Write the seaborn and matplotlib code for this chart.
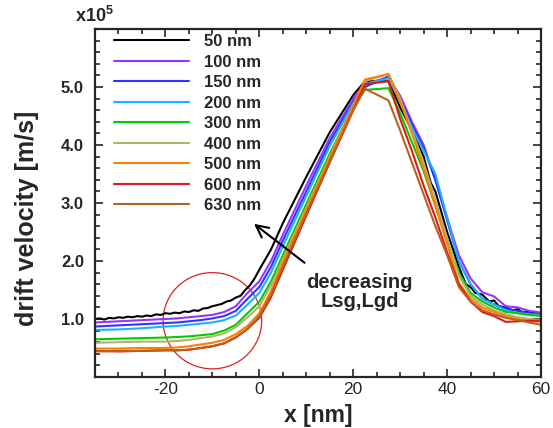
import numpy as np
import pandas as pd
import matplotlib
matplotlib.use("Agg")
import matplotlib.pyplot as plt
import seaborn as sns
from matplotlib.patches import Ellipse
from matplotlib.ticker import MultipleLocator

# Drift velocity profiles (x10^5 m/s) for different Lsg/Lgd lengths
lengths = ["50 nm", "100 nm", "150 nm", "200 nm", "300 nm", "400 nm", "500 nm", "600 nm", "630 nm"]
colors = ["#000000", "#9933ff", "#3333ff", "#1ab2ff", "#00cc00", "#b3b366", "#ff8000", "#dd1a1a", "#b8621b"]

# the 50 nm curve is noisy and sampled finer
x_50 = [-35, -34, -33, -32, -31, -30, -29, -28, -27, -26, -25, -24, -23, -22, -21, -20,
        -19, -18, -17, -16, -15, -14, -13, -12, -11, -10, -9, -8, -7, -6, -5, -4, -3, -2, -1,
        0, 2.5, 5, 10, 15, 20, 22.5, 27.5, 30, 32.5, 35, 36.5, 37.5, 40, 42.5, 44, 45, 46,
        47.5, 49, 50, 51, 52.5, 54, 55, 56, 57.5, 59, 60]
v_50 = [1.00, 1.01, 0.99, 1.02, 1.01, 1.03, 1.02, 1.04, 1.03, 1.05, 1.04, 1.06, 1.05, 1.08, 1.07, 1.10,
        1.09, 1.11, 1.10, 1.13, 1.12, 1.15, 1.14, 1.18, 1.19, 1.22, 1.24, 1.26, 1.30, 1.32, 1.37, 1.40,
        1.50, 1.58, 1.70,
        1.85, 2.20, 2.65, 3.45, 4.22, 4.86, 5.10, 5.10, 4.65, 4.25, 3.80, 3.35, 3.20, 2.50, 1.90, 1.60,
        1.55, 1.45, 1.42, 1.30, 1.32, 1.22, 1.20, 1.15, 1.17, 1.12, 1.13, 1.09, 1.10]

x_grid = [-35, -30, -25, -20, -17.5, -15, -12.5, -10, -7.5, -5, -2.5, 0, 2.5, 5, 10, 15, 20,
          22.5, 27.5, 30, 32.5, 35, 37.5, 40, 42.5, 45, 47.5, 50, 52.5, 55, 57.5, 60]
v_100 = [0.94, 0.96, 0.98, 1.00, 1.01, 1.03, 1.05, 1.07, 1.12, 1.22, 1.45, 1.65, 2.00, 2.45, 3.30, 4.12,
         4.80, 5.05, 5.17, 4.85, 4.40, 4.00, 3.40, 2.75, 2.10, 1.70, 1.46, 1.39, 1.22, 1.20, 1.14, 1.11]
v_150 = [0.87, 0.89, 0.91, 0.93, 0.94, 0.96, 0.98, 1.01, 1.05, 1.14, 1.35, 1.55, 1.90, 2.35, 3.20, 4.05,
         4.75, 5.00, 5.18, 4.80, 4.35, 3.95, 3.40, 2.70, 2.00, 1.60, 1.35, 1.25, 1.18, 1.14, 1.10, 1.08]
v_200 = [0.81, 0.82, 0.84, 0.87, 0.88, 0.90, 0.92, 0.94, 0.98, 1.06, 1.25, 1.45, 1.80, 2.25, 3.12, 3.98,
         4.72, 5.05, 5.15, 4.75, 4.30, 3.90, 3.50, 2.75, 2.00, 1.60, 1.35, 1.25, 1.15, 1.10, 1.08, 1.07]
v_300 = [0.65, 0.66, 0.67, 0.68, 0.69, 0.70, 0.72, 0.74, 0.80, 0.90, 1.10, 1.30, 1.65, 2.10, 2.98, 3.85,
         4.65, 4.95, 4.98, 4.55, 4.05, 3.55, 2.95, 2.35, 1.80, 1.45, 1.30, 1.20, 1.12, 1.10, 1.07, 1.05]
v_400 = [0.59, 0.60, 0.61, 0.61, 0.62, 0.64, 0.67, 0.70, 0.75, 0.86, 1.03, 1.22, 1.58, 2.03, 2.92, 3.80,
         4.67, 5.10, 5.23, 4.80, 4.25, 3.70, 3.05, 2.40, 1.75, 1.40, 1.25, 1.15, 1.08, 1.03, 1.00, 0.98]
v_500 = [0.49, 0.49, 0.50, 0.50, 0.51, 0.53, 0.56, 0.59, 0.64, 0.74, 0.88, 1.10, 1.48, 1.97, 2.88, 3.78,
         4.68, 5.13, 5.22, 4.75, 4.20, 3.60, 2.95, 2.30, 1.62, 1.35, 1.20, 1.12, 1.05, 1.00, 0.97, 0.95]
v_600 = [0.45, 0.44, 0.45, 0.46, 0.46, 0.47, 0.50, 0.53, 0.58, 0.68, 0.83, 1.02, 1.38, 1.85, 2.78, 3.70,
         4.60, 5.05, 5.10, 4.45, 3.90, 3.30, 2.75, 2.15, 1.60, 1.30, 1.12, 1.05, 0.95, 0.96, 0.97, 0.97]
v_630 = [0.44, 0.45, 0.45, 0.46, 0.46, 0.47, 0.50, 0.53, 0.58, 0.69, 0.83, 1.05, 1.42, 1.90, 2.82, 3.72,
         4.60, 4.97, 4.77, 4.25, 3.70, 3.15, 2.60, 2.10, 1.55, 1.30, 1.15, 1.08, 1.02, 0.98, 0.94, 0.90]

series = [v_100, v_150, v_200, v_300, v_400, v_500, v_600, v_630]

# build one long table for seaborn
frames = [pd.DataFrame({"x": x_50, "v": v_50, "L": lengths[0]})]
for name, vals in zip(lengths[1:], series):
    frames.append(pd.DataFrame({"x": x_grid, "v": vals, "L": name}))
df = pd.concat(frames, ignore_index=True)

sns.set_style("ticks")
plt.rcParams['font.family'] = ['Liberation Sans', 'DejaVu Sans']
plt.rcParams['mathtext.fontset'] = 'custom'
plt.rcParams['mathtext.bf'] = 'Liberation Sans:bold'
plt.rcParams['mathtext.rm'] = 'Liberation Sans:bold'

fig = plt.figure(figsize=(5.53, 4.28), dpi=100)
ax = fig.add_axes([0.1718, 0.1192, 0.8065, 0.813])

sns.lineplot(data=df, x="x", y="v", hue="L", hue_order=lengths, palette=colors,
             sort=False, estimator=None, linewidth=1.5, ax=ax)

ax.set_xlim(-35, 60)
ax.set_ylim(0, 6)
ax.set_yticks([1, 2, 3, 4, 5])
ax.set_yticklabels(["1.0", "2.0", "3.0", "4.0", "5.0"], fontweight="bold", fontsize=12)
ax.set_xticks([-20, 0, 20, 40, 60])
ax.set_xticklabels(["-20", "0", "20", "40", "60"], fontsize=12.5)
ax.xaxis.set_minor_locator(MultipleLocator(5))
ax.yaxis.set_minor_locator(MultipleLocator(0.2))
ax.tick_params(which="both", direction="in", top=True, right=True, width=1.2)
ax.tick_params(which="major", length=6)
ax.tick_params(which="minor", length=3.5)
ax.tick_params(axis="y", which="major", pad=8)
for sp in ax.spines.values():
    sp.set_linewidth(1.6)

ax.set_xlabel("x [nm]", fontsize=16.5, fontweight="bold", labelpad=5)
ax.set_ylabel("drift velocity [m/s]", fontsize=18, fontweight="bold")
ax.yaxis.set_label_coords(-0.125, 0.455)
fig.text(0.205, 0.962, r"x10$^5$", fontsize=13, fontweight="bold", ha="right", va="center")

handles, labels = ax.get_legend_handles_labels()
ax.legend(handles, labels, loc="upper left", bbox_to_anchor=(0.01, 1.028), frameon=False,
          handlelength=4.5, labelspacing=0.33, handletextpad=0.85,
          prop={"weight": "bold", "size": 12})

# highlighted region and trend arrow
ax.add_patch(Ellipse((-10, 0.97), 21, 1.66, fill=False, edgecolor="#dd2222", linewidth=0.9))
ax.annotate("", xy=(-1.6, 2.67), xytext=(10.1, 1.94),
            arrowprops=dict(arrowstyle="->", color="black", lw=1.5, mutation_scale=22))
ax.text(21.4, 1.46, "decreasing\nLsg,Lgd", fontsize=14.5, fontweight="bold",
        ha="center", va="center", linespacing=1.0)

fig.savefig("out.png", dpi=100)
